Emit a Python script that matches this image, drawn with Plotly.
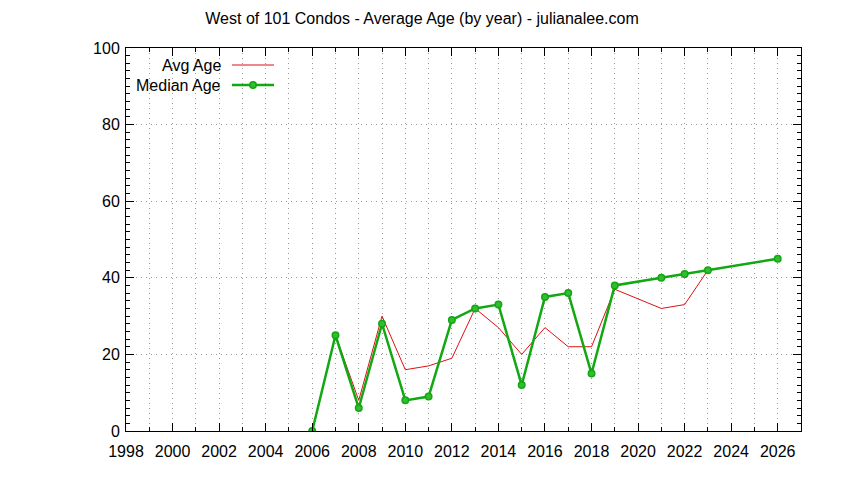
import plotly.graph_objects as go

years = [2006, 2007, 2008, 2009, 2010, 2011, 2012, 2013, 2014, 2015,
         2016, 2017, 2018, 2019, 2021, 2022, 2023, 2026]
avg_age = [0, 25, 8, 30, 16, 17, 19, 32, 27, 20,
           27, 22, 22, 37, 32, 33, 42, 45]
median_age = [0, 25, 6, 28, 8, 9, 29, 32, 33, 12,
              35, 36, 15, 38, 40, 41, 42, 45]
series_names = ['Avg Age', 'Median Age']
title_text = 'West of 101 Condos - Average Age (by year) - julianalee.com'

red = '#dd1111'
green = '#11a811'
font = 'Liberation Sans'
fsize = 16
grid = '#999999'

fig = go.Figure()
fig.add_trace(go.Scatter(x=years, y=avg_age, mode='lines', name=series_names[0],
                         line=dict(color=red, width=1), showlegend=False))
fig.add_trace(go.Scatter(x=years, y=median_age, mode='lines+markers', name=series_names[1],
                         line=dict(color=green, width=2.5),
                         marker=dict(symbol='circle', size=6.5, color='#33bb33',
                                     line=dict(color=green, width=1.5)),
                         showlegend=False))

axis_common = dict(showline=True, linecolor='black', linewidth=1, mirror='ticks',
                   ticks='inside', ticklen=8, tickcolor='black', tickwidth=1,
                   zeroline=False, gridcolor=grid, griddash='1px,4px', gridwidth=1,
                   tickfont=dict(family=font, size=fsize, color='black'))

fig.update_xaxes(range=[1998, 2027], dtick=2, tick0=1998, showgrid=True,
                 ticklabelstandoff=6,
                 minor=dict(dtick=1, ticks='inside', ticklen=4, tickcolor='black',
                            showgrid=True, gridcolor=grid, griddash='1px,4px'),
                 **axis_common)
fig.update_yaxes(range=[0, 100], dtick=20, showgrid=True,
                 ticklabelstandoff=2,
                 minor=dict(dtick=2, ticks='inside', ticklen=4, tickcolor='black',
                            showgrid=False),
                 **axis_common)

# page is shown with an 8px body margin, so everything is shifted back by 8px
OFF = 8
L, T, W, H = 126 - OFF, 48 - OFF, 675, 383


def px(x):
    return (x - OFF - L) / W


def py(y):
    return (T + H - (y - OFF)) / H


# legend drawn gnuplot-style: text on the left, sample on the right
rows = [(series_names[0], 65, red, 1, False), (series_names[1], 85, green, 2.5, True)]
for name, yy, col, w, dot in rows:
    fig.add_annotation(text=name, xref='paper', yref='paper', x=px(223), y=py(yy),
                       xanchor='right', yanchor='middle', showarrow=False,
                       font=dict(family=font, size=fsize, color='black'))
    fig.add_shape(type='line', xref='paper', yref='paper', x0=px(232), x1=px(274),
                  y0=py(yy), y1=py(yy), line=dict(color=col, width=w))
    if dot:
        fig.add_shape(type='circle', xref='paper', yref='paper',
                      xsizemode='pixel', ysizemode='pixel',
                      xanchor=px(253), yanchor=py(yy), x0=-3.2, x1=3.2, y0=-3.2, y1=3.2,
                      fillcolor='#33bb33', line=dict(color=green, width=1.5))

fig.update_layout(
    width=844, height=480,
    margin=dict(l=L, r=844 - L - W, t=T, b=480 - T - H),
    paper_bgcolor='white', plot_bgcolor='white',
    title=dict(text=title_text, x=(422 - OFF) / 844, xanchor='center', xref='container',
               y=1 - (18 - OFF) / 480, yanchor='middle',
               font=dict(family=font, size=fsize, color='black')),
    font=dict(family=font, size=fsize, color='black'),
)

fig.write_html('out.html')
